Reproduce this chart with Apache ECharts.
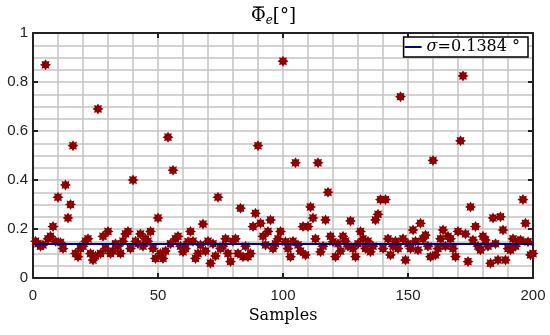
<!DOCTYPE html>
<html>
<head>
<meta charset="utf-8">
<script src="https://cdn.jsdelivr.net/npm/echarts@6/dist/echarts.min.js"></script>
<style>
html,body{margin:0;padding:0;background:#fff;}
#chart{width:550px;height:335px;}
</style>
</head>
<body>
<div id="chart"></div>
<script>
// ---- data ----
var samples = [];
for (var i = 1; i <= 200; i++) samples.push(i);
var phiValues = [
  0.15,0.14,0.13,0.135,0.87,0.16,0.17,0.21,0.15,0.33,
  0.145,0.12,0.38,0.245,0.30,0.54,0.10,0.087,0.12,0.13,
  0.15,0.16,0.10,0.073,0.09,0.69,0.10,0.17,0.12,0.19,
  0.10,0.11,0.14,0.13,0.10,0.15,0.18,0.19,0.12,0.40,
  0.15,0.14,0.18,0.13,0.16,0.15,0.19,0.12,0.08,0.245,
  0.10,0.08,0.11,0.575,0.14,0.44,0.16,0.17,0.13,0.107,
  0.12,0.148,0.19,0.15,0.08,0.10,0.135,0.22,0.11,0.15,
  0.06,0.14,0.09,0.33,0.12,0.13,0.16,0.10,0.067,0.15,
  0.16,0.10,0.285,0.087,0.13,0.087,0.10,0.21,0.264,0.54,
  0.223,0.17,0.135,0.19,0.237,0.12,0.14,0.16,0.19,0.885,
  0.148,0.12,0.087,0.15,0.47,0.135,0.11,0.21,0.094,0.21,
  0.29,0.245,0.16,0.47,0.107,0.13,0.237,0.35,0.17,0.148,
  0.087,0.14,0.11,0.17,0.15,0.13,0.233,0.12,0.087,0.14,
  0.19,0.16,0.12,0.15,0.107,0.13,0.237,0.26,0.32,0.12,
  0.32,0.16,0.094,0.13,0.15,0.12,0.74,0.16,0.073,0.14,
  0.12,0.196,0.15,0.114,0.223,0.16,0.175,0.13,0.087,0.48,
  0.094,0.12,0.16,0.196,0.13,0.17,0.16,0.12,0.087,0.19,
  0.56,0.825,0.18,0.067,0.29,0.155,0.21,0.13,0.114,0.17,
  0.155,0.13,0.06,0.245,0.14,0.073,0.25,0.196,0.073,0.12,
  0.114,0.16,0.13,0.15,0.155,0.32,0.223,0.148,0.094,0.10
];
var sigma = 0.1384;
var lineX = [0, 200];
var xTicks = [0, 50, 100, 150, 200];
var yTicks = [0, 0.2, 0.4, 0.6, 0.8, 1];

// asterisk-like 8-point star symbol (shape only)
function starPath() {
  var pts = [];
  for (var k = 0; k < 16; k++) {
    var a = k * Math.PI / 8;
    var r = (k % 2 === 0) ? 50 : 32;
    pts.push((50 + r * Math.cos(a)).toFixed(2) + ',' + (50 + r * Math.sin(a)).toFixed(2));
  }
  return 'path://M' + pts.join(' L') + ' Z';
}

var scatterData = samples.map(function (s, i) { return [s, phiValues[i]]; });
var lineData = lineX.map(function (x) { return [x, sigma]; });

var gridLine = { show: true, lineStyle: { color: '#c4c4c4', width: 1.5 } };
var chart = echarts.init(document.getElementById('chart'), null, { renderer: 'canvas' });
chart.setOption({
  animation: false,
  backgroundColor: '#fff',
  graphic: [{
    type: 'text',
    left: 251,
    top: 7,
    style: {
      text: '{a|Φ}{s|e}{a|[°]}',
      rich: {
        a: { fontFamily: 'DejaVu Serif', fontSize: 18, fill: '#000' },
        s: { fontFamily: 'DejaVu Serif', fontStyle: 'italic', fontSize: 12, fill: '#000', padding: [10, 0, 0, 0] }
      }
    }
  }, {
    type: 'line',
    shape: { x1: 253, y1: 7, x2: 264, y2: 7 },
    style: { stroke: '#000', lineWidth: 1.2 }
  }],
  legend: {
    data: ['sigma'],
    right: 22,
    top: 37,
    orient: 'vertical',
    backgroundColor: '#fff',
    borderColor: '#000',
    borderWidth: 1.5,
    borderRadius: 0,
    padding: [2, 8, 2, 1],
    itemWidth: 17,
    itemHeight: 2,
    itemGap: 0,
    icon: 'rect',
    formatter: function () { return '{i|σ}{n|=' + sigma + ' °}'; },
    textStyle: {
      rich: {
        i: { fontFamily: 'DejaVu Serif', fontStyle: 'italic', fontSize: 16, color: '#000' },
        n: { fontFamily: 'DejaVu Serif', fontSize: 16, color: '#000' }
      }
    }
  },
  grid: { left: 33, right: 17, top: 33, bottom: 57 },
  xAxis: [{
    type: 'value', min: 0, max: 200, interval: 50,
    name: 'Samples', nameLocation: 'middle', nameGap: 28,
    nameTextStyle: { fontFamily: 'DejaVu Serif', fontSize: 16, color: '#000' },
    axisLine: { show: true, onZero: false, lineStyle: { color: '#222', width: 2 } },
    axisTick: { show: true, inside: true, length: 5, lineStyle: { color: '#222', width: 2 } },
    axisLabel: { fontFamily: 'Liberation Sans', fontSize: 15, color: '#222', margin: 10,
      formatter: function (v) { return xTicks.indexOf(v) >= 0 ? String(v) : ''; } },
    splitLine: gridLine,
    minorTick: { show: false, splitNumber: 5 },
    minorSplitLine: gridLine
  }, {
    type: 'value', min: 0, max: 200, interval: 50, position: 'top',
    axisLine: { show: true, onZero: false, lineStyle: { color: '#222', width: 2 } },
    axisTick: { show: true, inside: true, length: 5, lineStyle: { color: '#222', width: 2 } },
    axisLabel: { show: false }, splitLine: { show: false }
  }],
  yAxis: [{
    type: 'value', min: 0, max: 1, interval: 0.2,
    axisLine: { show: true, onZero: false, lineStyle: { color: '#222', width: 2 } },
    axisTick: { show: true, inside: true, length: 5, lineStyle: { color: '#222', width: 2 } },
    axisLabel: { fontFamily: 'Liberation Sans', fontSize: 15, color: '#222', margin: 5,
      formatter: function (v) { var r = Math.round(v * 10) / 10; return yTicks.indexOf(r) >= 0 ? String(r) : ''; } },
    splitLine: gridLine,
    minorTick: { show: false, splitNumber: 4 },
    minorSplitLine: gridLine
  }, {
    type: 'value', min: 0, max: 1, interval: 0.2, position: 'right',
    axisLine: { show: true, onZero: false, lineStyle: { color: '#222', width: 2 } },
    axisTick: { show: true, inside: true, length: 5, lineStyle: { color: '#222', width: 2 } },
    axisLabel: { show: false }, splitLine: { show: false }
  }],
  series: [{
    name: 'points',
    type: 'scatter',
    data: scatterData,
    symbol: starPath(),
    symbolSize: 11,
    itemStyle: { color: '#8b0000', opacity: 1 },
    z: 2
  }, {
    name: 'sigma',
    type: 'line',
    data: lineData,
    symbol: 'none',
    lineStyle: { color: '#00008b', width: 2 },
    itemStyle: { color: '#00008b' },
    z: 3
  }]
});
</script>
</body>
</html>
